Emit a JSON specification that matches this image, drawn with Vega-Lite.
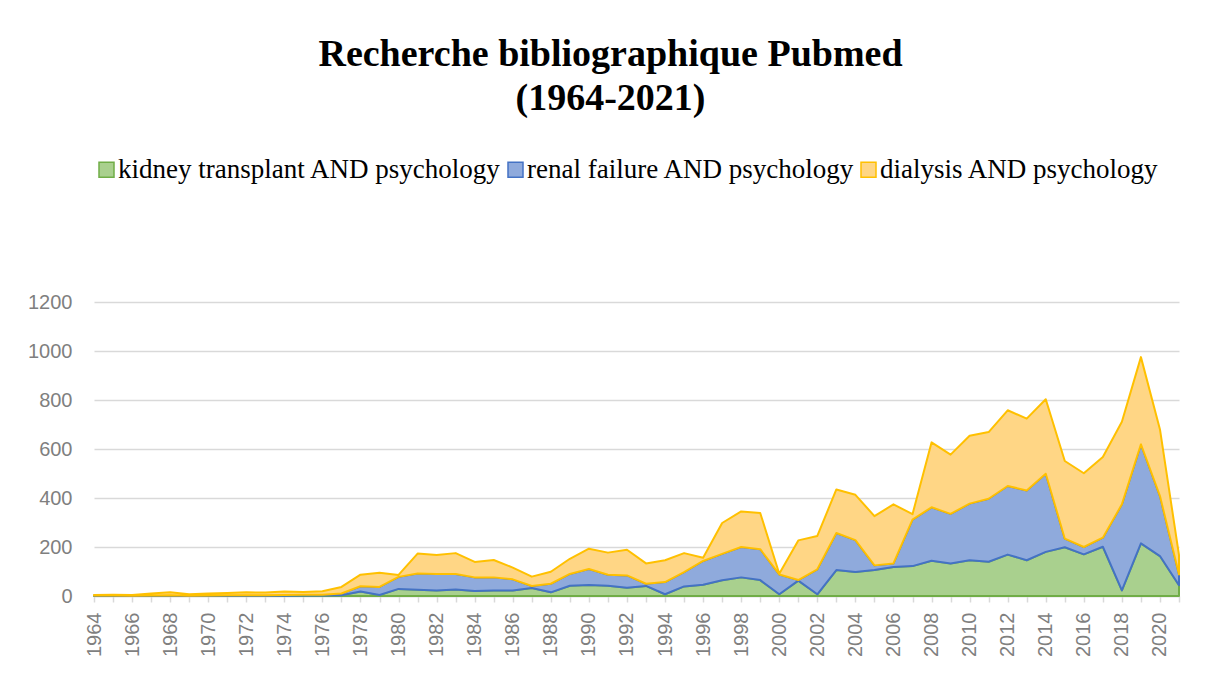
{
"$schema": "https://vega.github.io/schema/vega-lite/v6.json",
"width": 1085,
"height": 294,
"autosize": {"type": "none"},
"padding": {"left": 94, "top": 302, "right": 29, "bottom": 84},
"background": "white",
"config": {"view": {"stroke": null}},
"title": {"text": ["Recherche bibliographique Pubmed", "(1964-2021)"], "font": "Liberation Serif", "fontSize": 38, "fontWeight": "bold", "color": "#000000", "anchor": "middle", "dx": -26, "lineHeight": 44, "offset": 38},
"datasets": {
"pubmed": [
{"year":1964,"series":"kidney transplant AND psychology","count":1,"rank":1},{"year":1964,"series":"renal failure AND psychology","count":1,"rank":2},{"year":1964,"series":"dialysis AND psychology","count":2,"rank":3},
{"year":1965,"series":"kidney transplant AND psychology","count":1,"rank":1},{"year":1965,"series":"renal failure AND psychology","count":1,"rank":2},{"year":1965,"series":"dialysis AND psychology","count":3,"rank":3},
{"year":1966,"series":"kidney transplant AND psychology","count":0,"rank":1},{"year":1966,"series":"renal failure AND psychology","count":1,"rank":2},{"year":1966,"series":"dialysis AND psychology","count":3,"rank":3},
{"year":1967,"series":"kidney transplant AND psychology","count":1,"rank":1},{"year":1967,"series":"renal failure AND psychology","count":1,"rank":2},{"year":1967,"series":"dialysis AND psychology","count":8,"rank":3},
{"year":1968,"series":"kidney transplant AND psychology","count":1,"rank":1},{"year":1968,"series":"renal failure AND psychology","count":2,"rank":2},{"year":1968,"series":"dialysis AND psychology","count":12,"rank":3},
{"year":1969,"series":"kidney transplant AND psychology","count":0,"rank":1},{"year":1969,"series":"renal failure AND psychology","count":1,"rank":2},{"year":1969,"series":"dialysis AND psychology","count":6,"rank":3},
{"year":1970,"series":"kidney transplant AND psychology","count":1,"rank":1},{"year":1970,"series":"renal failure AND psychology","count":1,"rank":2},{"year":1970,"series":"dialysis AND psychology","count":8,"rank":3},
{"year":1971,"series":"kidney transplant AND psychology","count":1,"rank":1},{"year":1971,"series":"renal failure AND psychology","count":2,"rank":2},{"year":1971,"series":"dialysis AND psychology","count":9,"rank":3},
{"year":1972,"series":"kidney transplant AND psychology","count":1,"rank":1},{"year":1972,"series":"renal failure AND psychology","count":2,"rank":2},{"year":1972,"series":"dialysis AND psychology","count":12,"rank":3},
{"year":1973,"series":"kidney transplant AND psychology","count":1,"rank":1},{"year":1973,"series":"renal failure AND psychology","count":2,"rank":2},{"year":1973,"series":"dialysis AND psychology","count":11,"rank":3},
{"year":1974,"series":"kidney transplant AND psychology","count":1,"rank":1},{"year":1974,"series":"renal failure AND psychology","count":3,"rank":2},{"year":1974,"series":"dialysis AND psychology","count":14,"rank":3},
{"year":1975,"series":"kidney transplant AND psychology","count":2,"rank":1},{"year":1975,"series":"renal failure AND psychology","count":3,"rank":2},{"year":1975,"series":"dialysis AND psychology","count":11,"rank":3},
{"year":1976,"series":"kidney transplant AND psychology","count":2,"rank":1},{"year":1976,"series":"renal failure AND psychology","count":3,"rank":2},{"year":1976,"series":"dialysis AND psychology","count":14,"rank":3},
{"year":1977,"series":"kidney transplant AND psychology","count":3,"rank":1},{"year":1977,"series":"renal failure AND psychology","count":7,"rank":2},{"year":1977,"series":"dialysis AND psychology","count":27,"rank":3},
{"year":1978,"series":"kidney transplant AND psychology","count":18,"rank":1},{"year":1978,"series":"renal failure AND psychology","count":22,"rank":2},{"year":1978,"series":"dialysis AND psychology","count":47,"rank":3},
{"year":1979,"series":"kidney transplant AND psychology","count":4,"rank":1},{"year":1979,"series":"renal failure AND psychology","count":33,"rank":2},{"year":1979,"series":"dialysis AND psychology","count":58,"rank":3},
{"year":1980,"series":"kidney transplant AND psychology","count":29,"rank":1},{"year":1980,"series":"renal failure AND psychology","count":49,"rank":2},{"year":1980,"series":"dialysis AND psychology","count":8,"rank":3},
{"year":1981,"series":"kidney transplant AND psychology","count":26,"rank":1},{"year":1981,"series":"renal failure AND psychology","count":66,"rank":2},{"year":1981,"series":"dialysis AND psychology","count":81,"rank":3},
{"year":1982,"series":"kidney transplant AND psychology","count":22,"rank":1},{"year":1982,"series":"renal failure AND psychology","count":68,"rank":2},{"year":1982,"series":"dialysis AND psychology","count":77,"rank":3},
{"year":1983,"series":"kidney transplant AND psychology","count":27,"rank":1},{"year":1983,"series":"renal failure AND psychology","count":63,"rank":2},{"year":1983,"series":"dialysis AND psychology","count":85,"rank":3},
{"year":1984,"series":"kidney transplant AND psychology","count":20,"rank":1},{"year":1984,"series":"renal failure AND psychology","count":56,"rank":2},{"year":1984,"series":"dialysis AND psychology","count":63,"rank":3},
{"year":1985,"series":"kidney transplant AND psychology","count":22,"rank":1},{"year":1985,"series":"renal failure AND psychology","count":54,"rank":2},{"year":1985,"series":"dialysis AND psychology","count":71,"rank":3},
{"year":1986,"series":"kidney transplant AND psychology","count":22,"rank":1},{"year":1986,"series":"renal failure AND psychology","count":46,"rank":2},{"year":1986,"series":"dialysis AND psychology","count":48,"rank":3},
{"year":1987,"series":"kidney transplant AND psychology","count":33,"rank":1},{"year":1987,"series":"renal failure AND psychology","count":8,"rank":2},{"year":1987,"series":"dialysis AND psychology","count":38,"rank":3},
{"year":1988,"series":"kidney transplant AND psychology","count":15,"rank":1},{"year":1988,"series":"renal failure AND psychology","count":35,"rank":2},{"year":1988,"series":"dialysis AND psychology","count":49,"rank":3},
{"year":1989,"series":"kidney transplant AND psychology","count":42,"rank":1},{"year":1989,"series":"renal failure AND psychology","count":48,"rank":2},{"year":1989,"series":"dialysis AND psychology","count":62,"rank":3},
{"year":1990,"series":"kidney transplant AND psychology","count":45,"rank":1},{"year":1990,"series":"renal failure AND psychology","count":65,"rank":2},{"year":1990,"series":"dialysis AND psychology","count":83,"rank":3},
{"year":1991,"series":"kidney transplant AND psychology","count":42,"rank":1},{"year":1991,"series":"renal failure AND psychology","count":45,"rank":2},{"year":1991,"series":"dialysis AND psychology","count":90,"rank":3},
{"year":1992,"series":"kidney transplant AND psychology","count":34,"rank":1},{"year":1992,"series":"renal failure AND psychology","count":50,"rank":2},{"year":1992,"series":"dialysis AND psychology","count":105,"rank":3},
{"year":1993,"series":"kidney transplant AND psychology","count":41,"rank":1},{"year":1993,"series":"renal failure AND psychology","count":9,"rank":2},{"year":1993,"series":"dialysis AND psychology","count":83,"rank":3},
{"year":1994,"series":"kidney transplant AND psychology","count":7,"rank":1},{"year":1994,"series":"renal failure AND psychology","count":50,"rank":2},{"year":1994,"series":"dialysis AND psychology","count":89,"rank":3},
{"year":1995,"series":"kidney transplant AND psychology","count":39,"rank":1},{"year":1995,"series":"renal failure AND psychology","count":58,"rank":2},{"year":1995,"series":"dialysis AND psychology","count":78,"rank":3},
{"year":1996,"series":"kidney transplant AND psychology","count":46,"rank":1},{"year":1996,"series":"renal failure AND psychology","count":97,"rank":2},{"year":1996,"series":"dialysis AND psychology","count":13,"rank":3},
{"year":1997,"series":"kidney transplant AND psychology","count":64,"rank":1},{"year":1997,"series":"renal failure AND psychology","count":108,"rank":2},{"year":1997,"series":"dialysis AND psychology","count":126,"rank":3},
{"year":1998,"series":"kidney transplant AND psychology","count":76,"rank":1},{"year":1998,"series":"renal failure AND psychology","count":124,"rank":2},{"year":1998,"series":"dialysis AND psychology","count":145,"rank":3},
{"year":1999,"series":"kidney transplant AND psychology","count":65,"rank":1},{"year":1999,"series":"renal failure AND psychology","count":126,"rank":2},{"year":1999,"series":"dialysis AND psychology","count":148,"rank":3},
{"year":2000,"series":"kidney transplant AND psychology","count":7,"rank":1},{"year":2000,"series":"renal failure AND psychology","count":81,"rank":2},{"year":2000,"series":"dialysis AND psychology","count":3,"rank":3},
{"year":2001,"series":"kidney transplant AND psychology","count":63,"rank":1},{"year":2001,"series":"renal failure AND psychology","count":2,"rank":2},{"year":2001,"series":"dialysis AND psychology","count":162,"rank":3},
{"year":2002,"series":"kidney transplant AND psychology","count":7,"rank":1},{"year":2002,"series":"renal failure AND psychology","count":102,"rank":2},{"year":2002,"series":"dialysis AND psychology","count":136,"rank":3},
{"year":2003,"series":"kidney transplant AND psychology","count":106,"rank":1},{"year":2003,"series":"renal failure AND psychology","count":151,"rank":2},{"year":2003,"series":"dialysis AND psychology","count":178,"rank":3},
{"year":2004,"series":"kidney transplant AND psychology","count":98,"rank":1},{"year":2004,"series":"renal failure AND psychology","count":130,"rank":2},{"year":2004,"series":"dialysis AND psychology","count":185,"rank":3},
{"year":2005,"series":"kidney transplant AND psychology","count":106,"rank":1},{"year":2005,"series":"renal failure AND psychology","count":19,"rank":2},{"year":2005,"series":"dialysis AND psychology","count":201,"rank":3},
{"year":2006,"series":"kidney transplant AND psychology","count":118,"rank":1},{"year":2006,"series":"renal failure AND psychology","count":15,"rank":2},{"year":2006,"series":"dialysis AND psychology","count":241,"rank":3},
{"year":2007,"series":"kidney transplant AND psychology","count":122,"rank":1},{"year":2007,"series":"renal failure AND psychology","count":190,"rank":2},{"year":2007,"series":"dialysis AND psychology","count":22,"rank":3},
{"year":2008,"series":"kidney transplant AND psychology","count":144,"rank":1},{"year":2008,"series":"renal failure AND psychology","count":218,"rank":2},{"year":2008,"series":"dialysis AND psychology","count":265,"rank":3},
{"year":2009,"series":"kidney transplant AND psychology","count":133,"rank":1},{"year":2009,"series":"renal failure AND psychology","count":202,"rank":2},{"year":2009,"series":"dialysis AND psychology","count":242,"rank":3},
{"year":2010,"series":"kidney transplant AND psychology","count":146,"rank":1},{"year":2010,"series":"renal failure AND psychology","count":231,"rank":2},{"year":2010,"series":"dialysis AND psychology","count":277,"rank":3},
{"year":2011,"series":"kidney transplant AND psychology","count":140,"rank":1},{"year":2011,"series":"renal failure AND psychology","count":257,"rank":2},{"year":2011,"series":"dialysis AND psychology","count":272,"rank":3},
{"year":2012,"series":"kidney transplant AND psychology","count":169,"rank":1},{"year":2012,"series":"renal failure AND psychology","count":280,"rank":2},{"year":2012,"series":"dialysis AND psychology","count":309,"rank":3},
{"year":2013,"series":"kidney transplant AND psychology","count":146,"rank":1},{"year":2013,"series":"renal failure AND psychology","count":285,"rank":2},{"year":2013,"series":"dialysis AND psychology","count":293,"rank":3},
{"year":2014,"series":"kidney transplant AND psychology","count":180,"rank":1},{"year":2014,"series":"renal failure AND psychology","count":319,"rank":2},{"year":2014,"series":"dialysis AND psychology","count":304,"rank":3},
{"year":2015,"series":"kidney transplant AND psychology","count":199,"rank":1},{"year":2015,"series":"renal failure AND psychology","count":35,"rank":2},{"year":2015,"series":"dialysis AND psychology","count":317,"rank":3},
{"year":2016,"series":"kidney transplant AND psychology","count":170,"rank":1},{"year":2016,"series":"renal failure AND psychology","count":30,"rank":2},{"year":2016,"series":"dialysis AND psychology","count":301,"rank":3},
{"year":2017,"series":"kidney transplant AND psychology","count":201,"rank":1},{"year":2017,"series":"renal failure AND psychology","count":37,"rank":2},{"year":2017,"series":"dialysis AND psychology","count":329,"rank":3},
{"year":2018,"series":"kidney transplant AND psychology","count":23,"rank":1},{"year":2018,"series":"renal failure AND psychology","count":351,"rank":2},{"year":2018,"series":"dialysis AND psychology","count":337,"rank":3},
{"year":2019,"series":"kidney transplant AND psychology","count":215,"rank":1},{"year":2019,"series":"renal failure AND psychology","count":404,"rank":2},{"year":2019,"series":"dialysis AND psychology","count":356,"rank":3},
{"year":2020,"series":"kidney transplant AND psychology","count":163,"rank":1},{"year":2020,"series":"renal failure AND psychology","count":245,"rank":2},{"year":2020,"series":"dialysis AND psychology","count":272,"rank":3},
{"year":2021,"series":"kidney transplant AND psychology","count":44,"rank":1},{"year":2021,"series":"renal failure AND psychology","count":44,"rank":2},{"year":2021,"series":"dialysis AND psychology","count":79,"rank":3}
]
},
"data": {"name": "pubmed"},
"mark": {"type": "area", "strokeWidth": 2, "strokeJoin": "round"},
"encoding": {
"x": {"field": "year", "type": "quantitative",
 "scale": {"domain": [1964, 2021], "nice": false, "zero": false},
 "axis": {"title": null, "grid": false, "format": "d",
  "values": [1964,1965,1966,1967,1968,1969,1970,1971,1972,1973,1974,1975,1976,1977,1978,1979,1980,1981,1982,1983,1984,1985,1986,1987,1988,1989,1990,1991,1992,1993,1994,1995,1996,1997,1998,1999,2000,2001,2002,2003,2004,2005,2006,2007,2008,2009,2010,2011,2012,2013,2014,2015,2016,2017,2018,2019,2020,2021],
  "labelExpr": "datum.value % 2 === 0 ? datum.label : ''",
  "labelAngle": -90, "labelFont": "Liberation Sans", "labelFontSize": 20, "labelColor": "#7F7F7F",
  "labelPadding": 10, "labelOverlap": false, "labelFlush": false, "labelBound": false,
  "tickSize": 6, "tickColor": "#D9D9D9", "tickWidth": 1.5,
  "domainColor": "#D9D9D9", "domainWidth": 1.5}},
"y": {"field": "count", "type": "quantitative", "stack": "zero",
 "scale": {"domain": [0, 1200], "nice": false},
 "axis": {"title": null, "format": "d", "values": [0,200,400,600,800,1000,1200], "grid": true, "gridColor": "#D9D9D9", "gridWidth": 1.5,
  "domain": false, "ticks": false, "labelPadding": 22, "labelFont": "Liberation Sans", "labelFontSize": 20, "labelColor": "#7F7F7F"}},
"fill": {"field": "series", "type": "nominal",
 "scale": {"domain": ["kidney transplant AND psychology", "renal failure AND psychology", "dialysis AND psychology"], "range": ["#A9D08E", "#8FAADC", "#FFD685"]},
 "legend": {"title": null, "orient": "none", "legendX": -1, "legendY": -146, "direction": "horizontal",
  "labelFont": "Liberation Serif", "labelFontSize": 27, "labelColor": "#000000", "labelLimit": 0,
  "symbolType": "square", "symbolSize": 225, "symbolStrokeWidth": 1.5, "columnPadding": 0, "labelOffset": -2}},
"stroke": {"field": "series", "type": "nominal",
 "scale": {"domain": ["kidney transplant AND psychology", "renal failure AND psychology", "dialysis AND psychology"], "range": ["#70AD47", "#4472C4", "#FFC000"]},
 "legend": {"title": null, "orient": "none", "legendX": -1, "legendY": -146, "direction": "horizontal",
  "labelFont": "Liberation Serif", "labelFontSize": 27, "labelColor": "#000000", "labelLimit": 0,
  "symbolType": "square", "symbolSize": 225, "symbolStrokeWidth": 1.5, "columnPadding": 0, "labelOffset": -2}},
"order": {"field": "rank"}
}
}
